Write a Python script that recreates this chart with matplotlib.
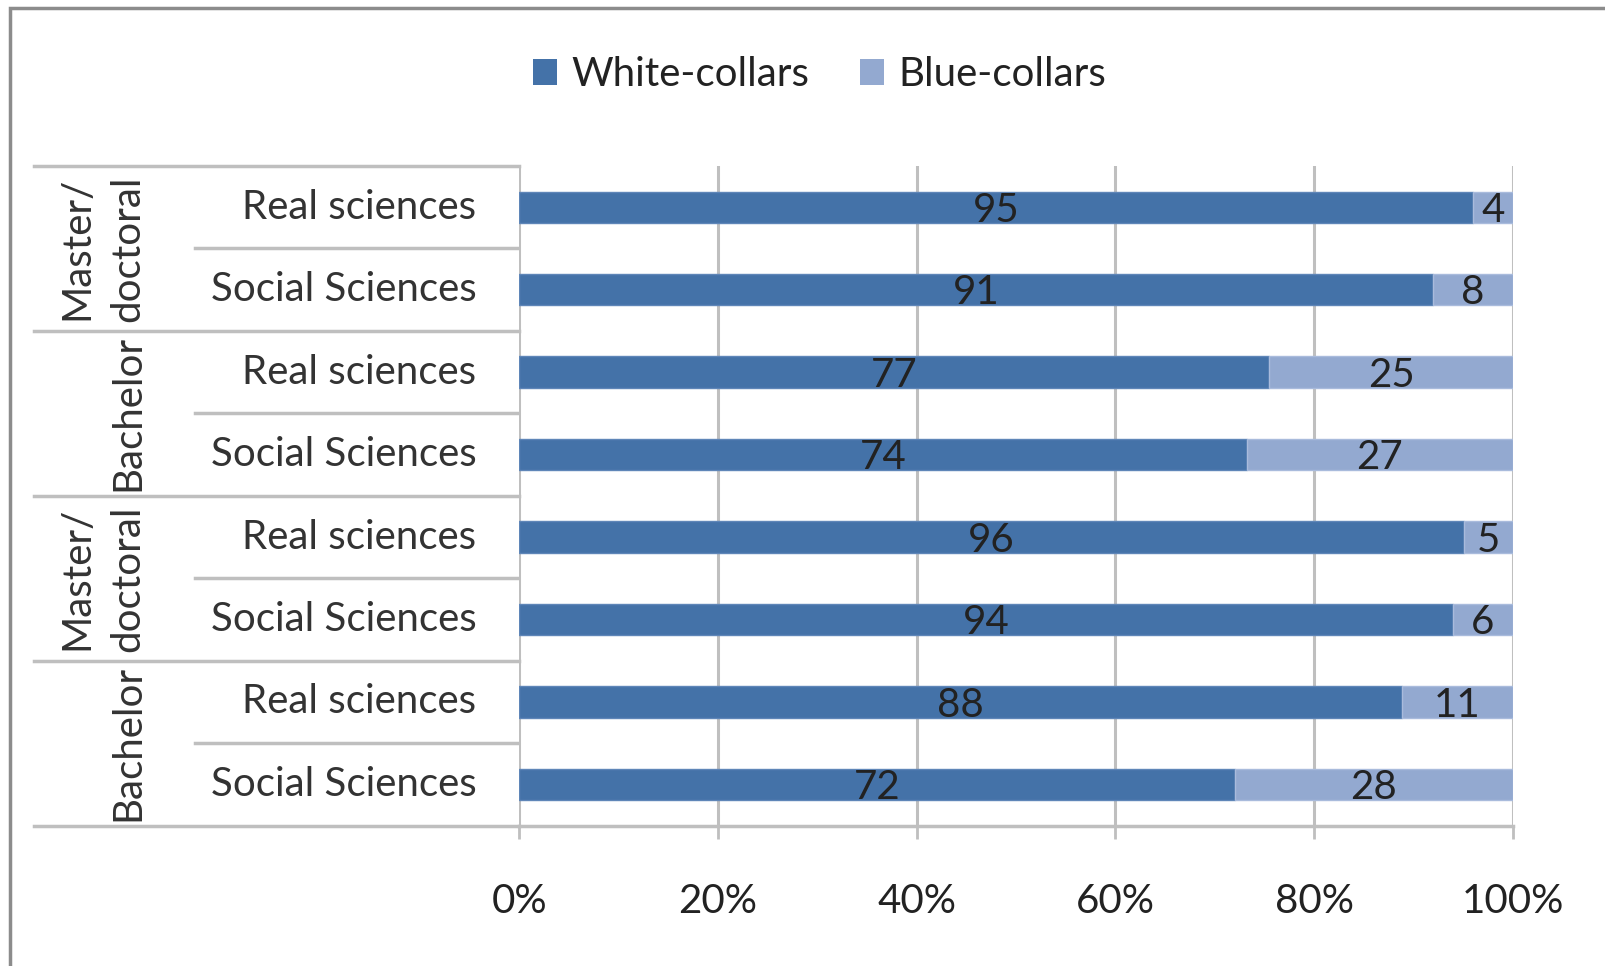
import matplotlib
matplotlib.use("Agg")
import matplotlib.pyplot as plt
from matplotlib.patches import Patch, Rectangle
import numpy as np

plt.rcParams["font.family"] = ["Lato", "DejaVu Sans"]

# data, top row first
groups = ["Master/\ndoctoral", "Bachelor", "Master/\ndoctoral", "Bachelor"]
fields = ["Real sciences", "Social Sciences"] * 4
white_collars = [95, 91, 77, 74, 96, 94, 88, 72]
blue_collars = [4, 8, 25, 27, 5, 6, 11, 28]
series_names = ["White-collars", "Blue-collars"]
tick_labels = ["0%", "20%", "40%", "60%", "80%", "100%"]

C_WHITE = "#4472a8"
C_BLUE = "#93a9d0"
GRID = "#bfbfbf"
TXT = "#222222"
FS = 29

W, H = 1568, 943  # layout measured on the reference


def fx(x):
    return x / W


def fy(y):
    return 1 - y / H


fig = plt.figure(figsize=(16.06, 9.66), dpi=100)

ax = fig.add_axes([fx(507), fy(806), fx(1477) - fx(507), fy(162) - fy(806)])
ax_t = fig.add_axes([fx(33), fy(806), fx(507) - fx(33), fy(162) - fy(806)])

wc = np.array(white_collars, dtype=float)
bc = np.array(blue_collars, dtype=float)
tot = wc + bc
w_share = wc / tot
b_share = bc / tot
y = np.arange(len(fields))

ax.barh(y, w_share, height=0.38, color=C_WHITE, edgecolor="#5f86b8", linewidth=1, zorder=3)
ax.barh(y, b_share, left=w_share, height=0.38, color=C_BLUE, edgecolor="#a9bbdc",
        linewidth=1, zorder=3)

for i in range(len(fields)):
    ax.text(w_share[i] / 2, y[i] + 0.04, f"{white_collars[i]}", ha="center", va="center",
            fontsize=FS, color=TXT, zorder=4)
    ax.text(w_share[i] + b_share[i] / 2, y[i] + 0.04, f"{blue_collars[i]}", ha="center",
            va="center", fontsize=FS, color=TXT, zorder=4)

ax.set_xlim(0, 1)
ax.set_ylim(len(fields) - 0.5, -0.5)
ax.set_xticks(np.linspace(0, 1, 6))
ax.set_xticklabels(tick_labels)
ax.set_yticks([])
ax.grid(axis="x", color=GRID, linewidth=2.2, zorder=0)
ax.tick_params(axis="x", direction="out", length=9, width=2, color=GRID,
               labelsize=FS, labelcolor=TXT, pad=32)
for s in ["top", "right", "left"]:
    ax.spines[s].set_visible(False)
ax.spines["bottom"].set_color(GRID)
ax.spines["bottom"].set_linewidth(2.5)

# category table on the left
ax_t.set_xlim(33, 507)
ax_t.set_ylim(len(fields) - 0.5, -0.5)
ax_t.axis("off")
for b in [-0.5, 1.5, 3.5, 5.5, 7.5]:
    ax_t.axhline(b, color=GRID, linewidth=2.5, clip_on=False)
for b in [0.5, 2.5, 4.5, 6.5]:
    ax_t.axhline(b, xmin=(190 - 33) / (507 - 33), xmax=1, color=GRID, linewidth=2.5)
for i, f in enumerate(fields):
    ax_t.text(465, y[i], f, ha="right", va="center", fontsize=FS, color="#333333")
for g, name in enumerate(groups):
    yc = 2 * g + 0.5
    parts = name.split("\n")
    if len(parts) == 2:
        ax_t.text(75, yc, parts[0], rotation=90, ha="center", va="center",
                  fontsize=FS, color="#333333")
        ax_t.text(125, yc, parts[1], rotation=90, ha="center", va="center",
                  fontsize=FS, color="#333333")
    else:
        ax_t.text(125, yc, name, rotation=90, ha="center", va="center",
                  fontsize=FS, color="#333333")

handles = [Patch(facecolor=C_WHITE), Patch(facecolor=C_BLUE)]
fig.legend(handles, series_names, loc="center", bbox_to_anchor=(fx(800), fy(73)),
           ncol=2, frameon=False, fontsize=FS, handlelength=0.6, handleheight=0.6,
           handletextpad=0.35, columnspacing=1.25, labelcolor=TXT)

# outer chart border (only left and top visible in the crop)
fig.patches.append(Rectangle((fx(10), -0.2), 1.5, 1.2 - 8 / H,
                             transform=fig.transFigure, fill=False,
                             edgecolor="#8c8c8c", linewidth=2.5))

fig.savefig("out.png", dpi=100, facecolor="white")
